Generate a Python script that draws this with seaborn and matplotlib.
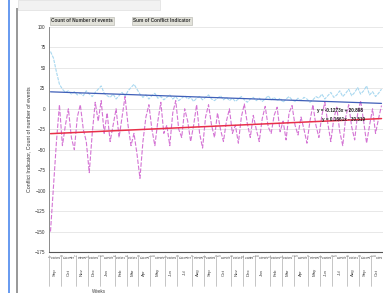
import numpy as np
import pandas as pd
import matplotlib
matplotlib.use("Agg")
import matplotlib.pyplot as plt
import matplotlib.transforms as mtransforms
from matplotlib.patches import Rectangle
import seaborn as sns

# ----------------------------
# Data (weekly values)
# ----------------------------
count_events = [
    70, 62, 45, 30, 24, 20, 22, 18, 21, 17,
    19, 16, 22, 18, 15, 20, 24, 28, 19, 16,
    14, 18, 12, 16, 20, 15, 22, 26, 30, 24,
    18, 14, 17, 12, 16, 19, 13, 15, 11, 14,
    17, 12, 15, 10, 13, 16, 12, 14, 9, 13,
    15, 11, 14, 17, 12, 10, 13, 16, 11, 14,
    10, 13, 9, 12, 15, 11, 8, 12, 14, 10,
    13, 9, 12, 16, 11, 14, 10, 13, 8, 12,
    15, 11, 9, 13, 10, 14, 12, 8, 11, 15,
    13, 18, 12, 16, 20, 14, 17, 22, 15, 19,
    24, 16, 20, 26, 18, 22, 28, 17, 21, 15, 19, 24,
]
conflict_sum = [
    -150, -95, -40, 5, -45, -20, 0, -35, -50, -10,
    5, -25, -40, -78, -30, 8, -15, 10, -30, -5,
    -40, -20, 0, -35, -10, 15, -20, -45, -30, -55,
    -85, -40, -10, 5, -25, -45, -15, 8, -30, -20,
    -45, -5, 10, -25, -35, 0, -15, -40, -20, 5,
    -30, -48, -10, 5, -20, -35, -5, -25, -40, -15,
    0, -30, -20, -42, -10, 6, -18, -35, -8, -25,
    -40, -12, 3, -22, -30, -8, 2, -28, -15, -38,
    -5, 4, -20, -32, -10, -25, -42, -15, 5, -20,
    -35, -8, 8, -18, -40, -12, 2, -28, -45, -10,
    5, -22, -38, -6, 10, -15, -42, -20, 0, -30, -12, 4,
]
# trend line equations printed on the chart
trend_slope = [-0.1273, 0.1661]
trend_icept = [20.898, -30.519]
trend_labels = ["y = -0.1273x + 20.898", "y = 0.1661x - 30.519"]

weeks = pd.date_range("2005-09-05", periods=len(count_events), freq="W-MON")
df = pd.DataFrame({
    "week": np.arange(len(weeks)),
    "Count of Number of events": count_events,
    "Sum of Conflict Indicator": conflict_sum,
})

# ----------------------------
# Figure
# ----------------------------
sns.set_style("white")
plt.rcParams["font.family"] = ["Liberation Sans", "DejaVu Sans"]

fig = plt.figure(figsize=(3.83, 2.93), dpi=100)
ax = fig.add_axes([49 / 383, 1 - 252 / 293, 334 / 383, 225 / 293])

sns.lineplot(data=df, x="week", y="Count of Number of events", ax=ax,
             color="#a8d8f0", lw=0.8, linestyle=(0, (3, 1)))
sns.lineplot(data=df, x="week", y="Sum of Conflict Indicator", ax=ax,
             color="#d474d4", lw=0.8, linestyle=(0, (4, 1.5)))

# linear trend lines (Excel numbers x from 1)
xx = df["week"].to_numpy()
ax.plot(xx, trend_slope[0] * (xx + 1) + trend_icept[0], color="#3f5fb8", lw=0.9)
ax.plot(xx, trend_slope[1] * (xx + 1) + trend_icept[1], color="#e8304a", lw=1.1)
ax.text(89.5, -2.5, trend_labels[0], fontsize=3.3, color="#222222",
        fontweight="bold", va="center")
ax.text(91, -13.5, trend_labels[1], fontsize=3.3, color="#222222",
        fontweight="bold", va="center")

ax.set_ylim(-175, 100)
ax.set_yticks(np.arange(-175, 101, 25))
ax.set_xlim(-0.5, len(weeks) - 0.5)
ax.yaxis.grid(True, color="#e4e4e4", lw=0.6)
ax.tick_params(axis="y", labelsize=3.3, length=1.5, pad=1, colors="#333333")
ax.set_ylabel("Conflict Indicator, Count of number of events", fontsize=3.8,
              color="#333333", labelpad=3)
ax.set_xlabel("")
for s in ["top", "right"]:
    ax.spines[s].set_visible(False)
ax.spines["left"].set_color("#777777")
ax.spines["bottom"].set_color("#555555")
ax.spines["left"].set_linewidth(0.6)

# week-level tick labels (day of month), tiny
ax.set_xticks(xx)
ax.set_xticklabels([str(d.day) for d in weeks], rotation=90, fontsize=2.2,
                   color="#555555")
ax.tick_params(axis="x", length=1.5, width=0.3, pad=0.5)

# month level of the axis
blend = mtransforms.blended_transform_factory(ax.transData, ax.transAxes)
months = pd.Series(weeks.to_period("M"))
starts = months.ne(months.shift()).to_numpy().nonzero()[0]
ends = list(starts[1:]) + [len(weeks)]
for s, e in zip(starts, ends):
    ax.plot([s - 0.5, s - 0.5], [-0.015, -0.15], transform=blend,
            color="#999999", lw=0.4, clip_on=False)
    ax.text((s + e - 1) / 2, -0.09, weeks[s].strftime("%b"), transform=blend,
            rotation=90, fontsize=3.2, color="#444444", ha="center", va="center")
ax.text(0.15, -0.165, "Weeks", transform=ax.transAxes, fontsize=3.3,
        color="#444444", ha="center", va="top")

# field buttons above the plot
fig.text(51 / 383, 1 - 21 / 293, "Count of Number of events", fontsize=3.4,
         fontweight="bold", color="#333333", va="center",
         bbox=dict(boxstyle="square,pad=0.25", fc="#e2e2da", ec="#b0b0a8", lw=0.4))
fig.text(133 / 383, 1 - 21 / 293, "Sum of Conflict Indicator", fontsize=3.4,
         fontweight="bold", color="#333333", va="center",
         bbox=dict(boxstyle="square,pad=0.25", fc="#e2e2da", ec="#b0b0a8", lw=0.4))

# window borders of the screenshot
fig.add_artist(Rectangle((8 / 383, 0), 1.5 / 383, 1, transform=fig.transFigure,
                         color="#6a9cf0", lw=0))
fig.add_artist(Rectangle((16 / 383, 0), 2 / 383, 1 - 8 / 293,
                         transform=fig.transFigure, color="#9a9a9a", lw=0))
fig.add_artist(Rectangle((18 / 383, 1 - 10 / 293), 142 / 383, 10 / 293,
                         transform=fig.transFigure, fc="#f2f2f2", ec="#d8d8d8", lw=0.4))

fig.savefig("out.png", dpi=100)
